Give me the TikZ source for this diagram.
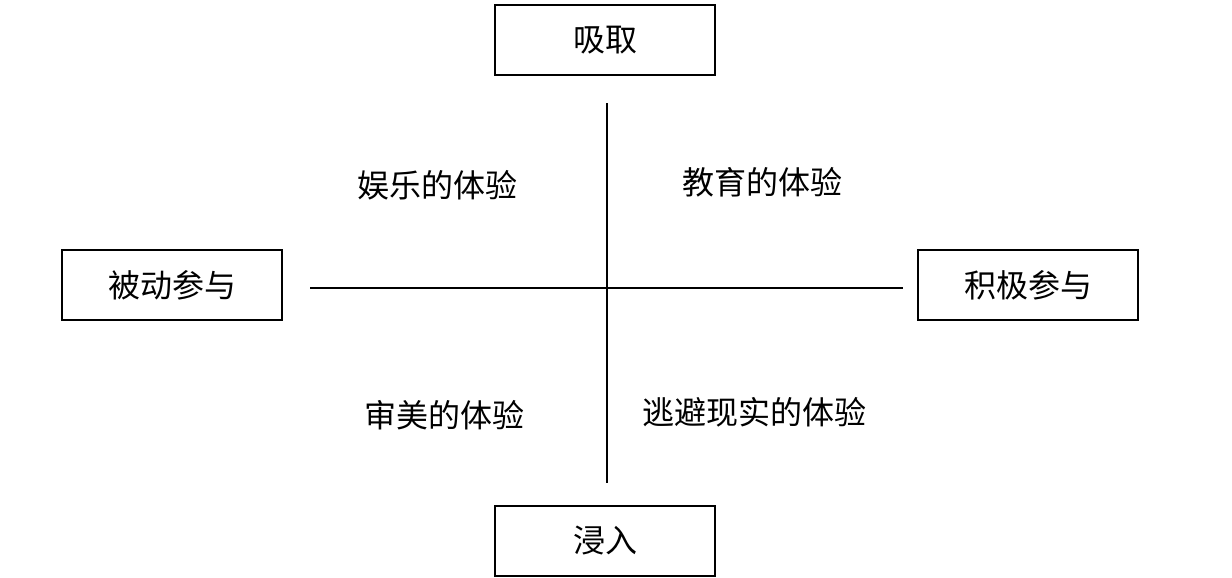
\documentclass[tikz,border=0pt]{standalone}
\usepackage{fontspec}
\newfontfamily\cjk{Noto Sans CJK SC}
\begin{document}
\begin{tikzpicture}[x=1pt,y=-1pt,
  box/.style={draw=black,line width=2pt,minimum width=220pt,minimum height=70pt,font=\cjk\fontsize{32}{36}\selectfont},
  lab/.style={font=\cjk\fontsize{32}{36}\selectfont},
  axis/.style={line width=2.5pt}]
\useasboundingbox (0,0) rectangle (1232,578);
\node[box] (top) at (605,40) {吸取};
\node[box] (bot) at (605,541) {浸入};
\node[box] (left) at (172,285) {被动参与};
\node[box] (right) at (1028,285) {积极参与};
\coordinate (vt) at (607,103);
\coordinate (vb) at (607,483);
\coordinate (hl) at (310,288);
\coordinate (hr) at (903,288);
\draw[axis] (vt) -- (vb);
\draw[axis] (hl) -- (hr);
\node[lab] (q1) at (437,185) {娱乐的体验};
\node[lab] (q2) at (762,182) {教育的体验};
\node[lab] (q3) at (444,415) {审美的体验};
\node[lab] (q4) at (754,412) {逃避现实的体验};
\end{tikzpicture}
\end{document}
